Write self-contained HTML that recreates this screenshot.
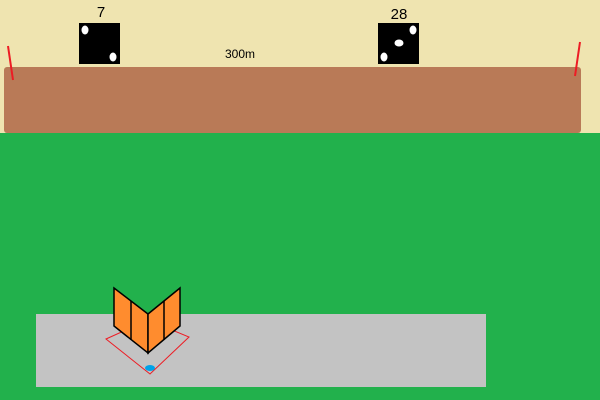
<!DOCTYPE html>
<html><head><style>
body{margin:0;width:600px;height:400px;overflow:hidden;background:#22b14c;font-family:"Liberation Sans",sans-serif}
</style></head><body>
<svg width="600" height="400" viewBox="0 0 600 400" style="position:absolute;left:0;top:0">
<rect x="0" y="0" width="600" height="133" fill="#efe4b0"/>
<rect x="0" y="133" width="600" height="267" fill="#22b14c"/>
<rect x="4" y="67" width="577" height="66" rx="3" fill="#b97a57"/>
<line x1="8" y1="46" x2="13" y2="80" stroke="#ed1c24" stroke-width="2"/>
<line x1="580" y1="42" x2="575" y2="76" stroke="#ed1c24" stroke-width="2"/>
<rect x="79" y="23" width="41" height="41" fill="#000"/>
<ellipse cx="85" cy="30" rx="3.5" ry="4.5" fill="#fff"/>
<ellipse cx="113" cy="57" rx="3.5" ry="4.5" fill="#fff"/>
<rect x="378" y="23" width="41" height="41" fill="#000"/>
<ellipse cx="413" cy="30" rx="3.5" ry="4.5" fill="#fff"/>
<ellipse cx="399" cy="43" rx="4.5" ry="3.5" fill="#fff"/>
<ellipse cx="384" cy="57" rx="3.5" ry="4.5" fill="#fff"/>
<text x="101" y="17" font-size="15" text-anchor="middle" fill="#000">7</text>
<text x="399" y="19" font-size="15" text-anchor="middle" fill="#000">28</text>
<text x="240" y="58" font-size="12" text-anchor="middle" fill="#000">300m</text>
<rect x="36" y="314" width="450" height="73" fill="#c3c3c3"/>
<polygon points="106,339 148,320 189,337 150,374" fill="none" stroke="#ed1c24" stroke-width="1"/>
<ellipse cx="150" cy="368" rx="5" ry="3" fill="#00a2e8"/>
<polygon points="114,288 148,314 148,353 114,326" fill="#ff8c2e" stroke="#000" stroke-width="1.5"/>
<polygon points="148,314 180,288 180,326 148,353" fill="#ff8c2e" stroke="#000" stroke-width="1.5"/>
<line x1="131" y1="301" x2="131" y2="340" stroke="#000" stroke-width="1.5"/>
<line x1="164" y1="301" x2="164" y2="340" stroke="#000" stroke-width="1.5"/>
</svg>
</body></html>
